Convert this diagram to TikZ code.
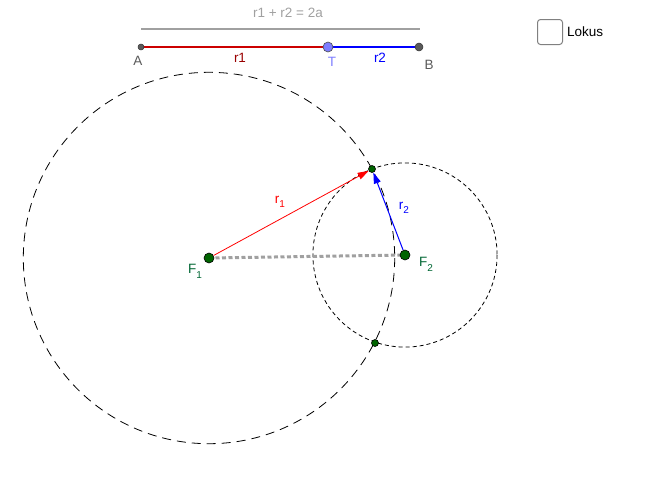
\documentclass[tikz,border=0pt]{standalone}
\usepackage{fontspec}
\setmainfont{Liberation Sans}
\usetikzlibrary{arrows.meta}
\definecolor{ptgreen}{RGB}{0,100,0}
\definecolor{lblgreen}{RGB}{0,102,51}
\definecolor{ggray}{RGB}{160,160,160}
\definecolor{dgray}{RGB}{90,90,90}
\definecolor{tblue}{RGB}{125,125,255}
\definecolor{segred}{RGB}{204,0,0}
\definecolor{lblred}{RGB}{153,0,0}
\newcommand{\mysub}[1]{\raisebox{-0.35em}{\fontsize{10}{11}\selectfont #1}}
\tikzset{
  gpt/.style={circle,fill=ptgreen,draw=black,line width=0.6pt,inner sep=0pt,minimum size=#1},
  gpt/.default=8pt,
  lbl/.style={font=\fontsize{13.5}{15}\selectfont,inner sep=0pt},
  bigcirc/.style={draw=black,line width=0.8pt,dash pattern=on 9pt off 6pt},
  smallcirc/.style={draw=black,line width=0.8pt,dash pattern=on 4pt off 3pt},
}
\begin{document}
\begin{tikzpicture}[x=1pt,y=-1pt]
\useasboundingbox (0,0) rectangle (667,493);
% coordinates
\coordinate (F1c) at (209,258);
\coordinate (F2c) at (405,255);
% circles
\draw[bigcirc] (F1c) circle (185.7);
\draw[smallcirc] (F2c) circle (92.1);
% dotted line
\draw[ggray,line width=3pt,dash pattern=on 4pt off 2.5pt] (F1c) -- (F2c);
% points
\node[gpt=10pt] (F1) at (F1c) {};
\node[gpt=10pt] (F2) at (F2c) {};
\node[gpt=7pt] (P) at (372,169) {};
\node[gpt=7pt] (Q) at (375,343) {};
% arrows
\draw[red,line width=0.8pt,-{Triangle[length=11pt,width=7pt]}] (F1) -- (P);
\draw[blue,line width=1pt,-{Triangle[length=11pt,width=7pt]}] (F2) -- (P);
% labels
\node[lbl,text=red] (lr1) at (280,202) {r\mysub{1}};
\node[lbl,text=blue] (lr2) at (404,208) {r\mysub{2}};
\node[lbl,text=lblgreen] (lF1) at (195,271) {F\mysub{1}};
\node[lbl,text=lblgreen] (lF2) at (426,264) {F\mysub{2}};
% top segment
\node[lbl,text=ggray] (eq) at (288,13) {r1 + r2 = 2a};
\coordinate (G1) at (141,29);
\coordinate (G2) at (420,29);
\draw[ggray,line width=1.2pt] (G1) -- (G2);
\coordinate (Ac) at (141,47);
\coordinate (Tc) at (328,47);
\coordinate (Bc) at (419,47);
\draw[segred,line width=1.3pt] (Ac) -- (Tc);
\draw[blue,line width=1.3pt] (Tc) -- (Bc);
\node[circle,fill=dgray,draw=black!80,line width=0.5pt,inner sep=0pt,minimum size=6pt] (A) at (Ac) {};
\node[circle,fill=dgray,draw=black!80,line width=0.5pt,inner sep=0pt,minimum size=8pt] (B) at (Bc) {};
\node[circle,fill=tblue,draw=black!70,line width=0.6pt,inner sep=0pt,minimum size=10pt] (T) at (Tc) {};
\node[lbl,text=dgray] (lA) at (138,61) {A};
\node[lbl,text=tblue] (lT) at (332,62) {T};
\node[lbl,text=dgray] (lB) at (429,65) {B};
\node[lbl,text=lblred] (lsr1) at (240,58) {r1};
\node[lbl,text=blue] (lsr2) at (380,58) {r2};
% checkbox
\node[draw=gray,line width=1pt,rounded corners=3pt,minimum size=25pt,inner sep=0pt] (cb) at (550,32) {};
\node[lbl,anchor=west] (lok) at (567,32) {Lokus};
\end{tikzpicture}
\end{document}
